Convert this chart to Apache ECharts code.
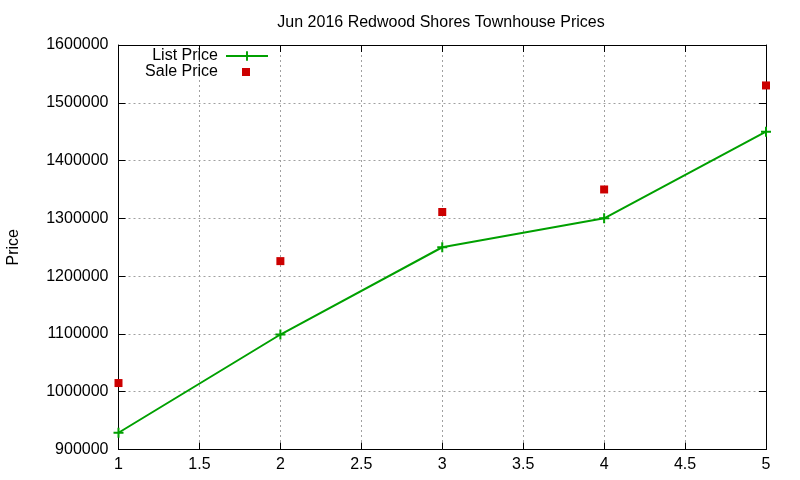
<!DOCTYPE html>
<html>
<head>
<meta charset="utf-8">
<script src="https://cdn.jsdelivr.net/npm/echarts@6/dist/echarts.min.js"></script>
<style>html,body{margin:0;padding:0;background:#fff}#c{width:800px;height:480px}</style>
</head>
<body>
<div id="c"></div>
<script>
const titleText = 'Jun 2016 Redwood Shores Townhouse Prices';
const xValues = [1, 2, 3, 4, 5];
const listPrice = [929000, 1099000, 1250000, 1300000, 1450000];
const salePrice = [1015000, 1226000, 1311000, 1350000, 1530000];
const yTicks = { min: 900000, max: 1600000, step: 100000 };
const xTicks = { min: 1, max: 5, step: 0.5 };

const FONT = 'Liberation Sans';
const FS = 16;
const chart = echarts.init(document.getElementById('c'), null, { renderer: 'canvas' });
const plus = 'path://M4,0H6V4H10V6H6V10H4V6H0V4H4Z';
const gridLine = { show: true, lineStyle: { color: '#a0a0a0', type: [2, 3], width: 1 } };
const axisLine = { show: true, onZero: false, lineStyle: { color: '#000', width: 1 } };
const tickIn = { show: true, inside: true, length: 7, lineStyle: { color: '#000' } };

chart.setOption({
  animation: false,
  backgroundColor: '#fff',
  title: {
    text: titleText, left: 436, top: 10, textAlign: 'center',
    textStyle: { fontFamily: FONT, fontSize: FS, fontWeight: 'normal', color: '#000' }
  },
  legend: [{
    data: ['List Price'], orient: 'vertical', align: 'right', right: 531, top: 48,
    itemWidth: 42, itemHeight: 12, padding: 0,
    textStyle: { fontFamily: FONT, fontSize: FS, color: '#000', padding: [0, 3, 0, 0] }
  }, {
    data: [{ name: 'Sale Price', icon: 'rect' }], orient: 'vertical', align: 'right', right: 550, top: 64,
    itemWidth: 8, itemHeight: 8, padding: 0,
    textStyle: { fontFamily: FONT, fontSize: FS, color: '#000', padding: [0, 19, 0, 0] }
  }],
  grid: { left: 118.5, right: 34, top: 45, bottom: 30.5, show: false, outerBoundsMode: 'none', containLabel: false },
  xAxis: [{
    type: 'value', min: xTicks.min, max: xTicks.max, interval: xTicks.step, position: 'bottom',
    axisLine, axisTick: tickIn, splitLine: gridLine,
    axisLabel: { fontFamily: FONT, fontSize: FS, color: '#000', margin: 7 }
  }, {
    type: 'value', min: xTicks.min, max: xTicks.max, interval: xTicks.step, position: 'top',
    axisLine, axisTick: tickIn, splitLine: { show: false }, axisLabel: { show: false }
  }],
  yAxis: [{
    type: 'value', min: yTicks.min, max: yTicks.max, interval: yTicks.step, position: 'left',
    axisLine, axisTick: tickIn, splitLine: gridLine,
    name: 'Price', nameLocation: 'middle', nameRotate: 90, nameGap: 97,
    nameTextStyle: { fontFamily: FONT, fontSize: FS, color: '#000' },
    axisLabel: { fontFamily: FONT, fontSize: FS, color: '#000', margin: 10, formatter: v => String(v) }
  }, {
    type: 'value', min: yTicks.min, max: yTicks.max, interval: yTicks.step, position: 'right',
    axisLine, axisTick: tickIn, splitLine: { show: false }, axisLabel: { show: false }
  }],
  series: [{
    name: 'List Price', type: 'line', xAxisIndex: 0, yAxisIndex: 0,
    data: xValues.map((x, i) => [x, listPrice[i]]),
    symbol: plus, symbolSize: 10, showAllSymbol: true,
    lineStyle: { color: '#00a000', width: 2 },
    itemStyle: { color: '#00a000', opacity: 1 }, z: 3
  }, {
    name: 'Sale Price', type: 'scatter', xAxisIndex: 0, yAxisIndex: 0,
    data: xValues.map((x, i) => [x, salePrice[i]]),
    symbol: 'rect', symbolSize: 8,
    itemStyle: { color: '#cc0000', opacity: 1 }, z: 4
  }]
});
</script>
</body>
</html>
